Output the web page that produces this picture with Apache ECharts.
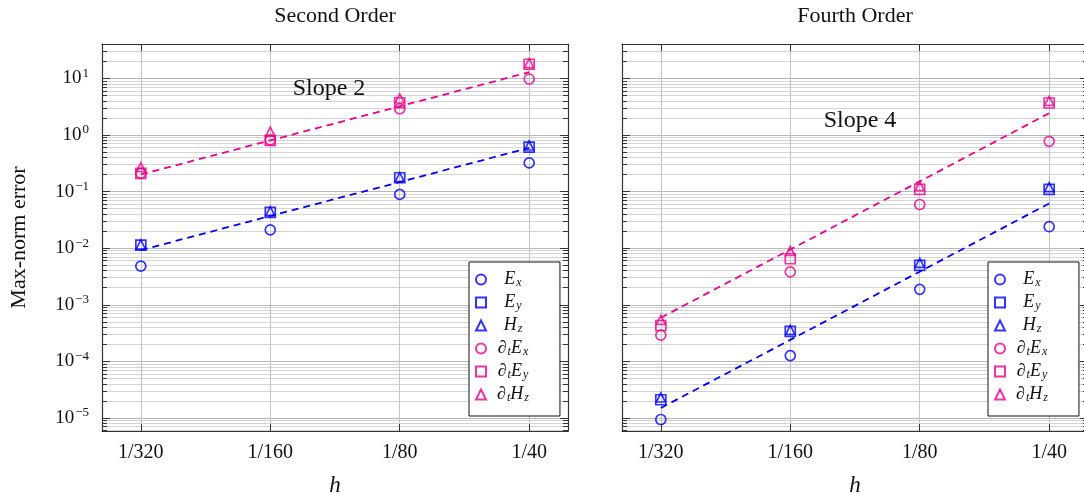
<!DOCTYPE html>
<html lang="en">
<head>
    <meta charset="UTF-8">
    <title>Max-norm error convergence</title>
    <script src="https://cdn.jsdelivr.net/npm/echarts@6/dist/echarts.min.js"></script>
    <style>
        html, body { margin: 0; padding: 0; background: #fff; }
        #main { width: 1084px; height: 494px; }
    </style>
</head>
<body>
    <div id="main"></div>
    <script type="text/javascript">
        // grid spacing h and its tick labels
        var hValues = [1 / 320, 1 / 160, 1 / 80, 1 / 40];
        var hLabels = ['1/320', '1/160', '1/80', '1/40'];
        // decade exponents used for the y tick labels
        var yExps = [-5, -4, -3, -2, -1, 0, 1];

        // second order scheme
        var so_Ex = [0.0048, 0.021, 0.089, 0.32];
        var so_Ey = [0.0113, 0.043, 0.175, 0.61];
        var so_Hz = [0.0116, 0.045, 0.18, 0.65];
        var so_dEx = [0.21, 0.81, 2.9, 9.7];
        var so_dEy = [0.21, 0.80, 3.7, 17.7];
        var so_dHz = [0.27, 1.14, 4.4, 18.5];
        var so_fitE = [0.0092, 0.037, 0.147, 0.59];
        var so_fitD = [0.2, 0.8, 3.2, 12.8];

        // fourth order scheme
        var fo_Ex = [9.4e-6, 1.26e-4, 1.87e-3, 0.0239];
        var fo_Ey = [2.1e-5, 3.4e-4, 4.97e-3, 0.109];
        var fo_Hz = [2.3e-5, 3.6e-4, 5.5e-3, 0.12];
        var fo_dEx = [2.9e-4, 3.8e-3, 0.059, 0.77];
        var fo_dEy = [4.3e-4, 6.5e-3, 0.109, 3.66];
        var fo_dHz = [5.4e-4, 8.9e-3, 0.125, 4.0];
        var fo_fitE = [1.5e-5, 2.4e-4, 3.84e-3, 0.0614];
        var fo_fitD = [5.9e-4, 9.44e-3, 0.151, 2.42];

        var BLUE = '#0000ff';
        var MAG = '#ec008c';
        var FONT = 'Liberation Serif';
        var names = ['Ex', 'Ey', 'Hz', 'dtEx', 'dtEy', 'dtHz'];
        var legendText = {
            Ex: '{i|E}{s|x}',
            Ey: '{i|E}{s|y}',
            Hz: '{i|H}{s|z}',
            dtEx: '{d|\u2202}{s|t}{i|E}{s|x}',
            dtEy: '{d|\u2202}{s|t}{i|E}{s|y}',
            dtHz: '{d|\u2202}{s|t}{i|H}{s|z}'
        };

        var yMajor = yExps.map(function (e) { return Math.pow(10, e); });
        var yMinor = [];
        for (var k = -6; k <= 1; k++) {
            for (var m = 2; m <= 9; m++) yMinor.push(m * Math.pow(10, k));
        }
        var yMin = Math.pow(10, -5.23);
        var yMax = Math.pow(10, 1.606);
        var xMin = hValues[0] * Math.pow(2, -0.3);
        var xMax = hValues[3] * Math.pow(2, 0.3);
        yMinor = yMinor.filter(function (v) { return v > yMin && v < yMax; });

        var frame = { show: true, lineStyle: { color: '#333', width: 1.2 } };
        var tickStyle = { color: '#333', width: 1 };

        function hLabel(v) {
            var best = 0;
            for (var i = 1; i < hValues.length; i++) {
                if (Math.abs(Math.log(hValues[i] / v)) < Math.abs(Math.log(hValues[best] / v))) best = i;
            }
            return hLabels[best];
        }
        function powLabel(v) {
            var e = Math.round(Math.log10(v));
            return '10{sup|' + (e < 0 ? '\u2212' + (-e) : e) + '}';
        }

        function xAxes(gi, title) {
            return [{
                type: 'log', logBase: 2, gridIndex: gi, min: xMin, max: xMax, position: 'bottom',
                axisLine: frame,
                axisTick: { inside: true, length: 7, customValues: hValues, lineStyle: tickStyle },
                axisLabel: { customValues: hValues, formatter: hLabel, margin: 12,
                    fontFamily: FONT, fontSize: 20, color: '#111' },
                splitLine: { show: true, lineStyle: { color: '#c4c4c4', width: 1 } },
                name: 'h', nameLocation: 'middle', nameGap: 43,
                nameTextStyle: { fontFamily: FONT, fontStyle: 'italic', fontSize: 23, color: '#111' }
            }, {
                type: 'log', logBase: 2, gridIndex: gi, min: xMin, max: xMax, position: 'top',
                axisLine: frame,
                axisTick: { inside: true, length: 7, customValues: hValues, lineStyle: tickStyle },
                axisLabel: { show: false },
                splitLine: { show: false },
                name: title, nameLocation: 'middle', nameGap: 17,
                nameTextStyle: { fontFamily: FONT, fontSize: 22, color: '#111' }
            }];
        }

        function yAxes(gi) {
            var base = { type: 'log', gridIndex: gi, min: yMin, max: yMax };
            return [
                Object.assign({}, base, {
                    position: 'left', axisLine: frame,
                    axisTick: { inside: true, length: 8, customValues: yMajor, lineStyle: tickStyle },
                    axisLabel: {
                        show: gi === 0, customValues: yMajor, formatter: powLabel, margin: 13,
                        fontFamily: FONT, fontSize: 19, color: '#111',
                        rich: { sup: { fontFamily: FONT, fontSize: 13, color: '#111', padding: [0, 0, 10, 1] } }
                    },
                    splitLine: { show: true, lineStyle: { color: '#b8b8b8', width: 1 } },
                    name: gi === 0 ? 'Max-norm error' : '', nameLocation: 'middle', nameGap: 72,
                    nameTextStyle: { fontFamily: FONT, fontSize: 22, color: '#111' }
                }),
                Object.assign({}, base, {
                    position: 'left', axisLine: { show: false },
                    axisTick: { inside: true, length: 5, customValues: yMinor, lineStyle: tickStyle },
                    axisLabel: { show: false },
                    splitLine: { show: true, lineStyle: { color: '#d4d4d4', width: 1 } }
                }),
                Object.assign({}, base, {
                    position: 'right', axisLine: frame,
                    axisTick: { inside: true, length: 8, customValues: yMajor, lineStyle: tickStyle },
                    axisLabel: { show: false }, splitLine: { show: false }
                }),
                Object.assign({}, base, {
                    position: 'right', axisLine: { show: false },
                    axisTick: { inside: true, length: 5, customValues: yMinor, lineStyle: tickStyle },
                    axisLabel: { show: false }, splitLine: { show: false }
                })
            ];
        }

        function pts(vals) {
            return vals.map(function (v, i) { return [hValues[i], v]; });
        }
        var symbols = ['circle', 'rect', 'triangle', 'circle', 'rect', 'triangle'];
        var sizes = [10, 10, 9, 10, 10, 9];

        function seriesFor(gi, sets, fits) {
            var out = [];
            fits.forEach(function (f, j) {
                out.push({
                    name: 'fit' + gi + j, type: 'line', xAxisIndex: gi * 2, yAxisIndex: gi * 4,
                    data: pts(f), showSymbol: false, symbol: 'none', silent: true, z: 1,
                    lineStyle: { color: j === 0 ? BLUE : MAG, width: 1.8, type: [7, 5] }
                });
            });
            sets.forEach(function (s, j) {
                var c = j < 3 ? BLUE : MAG;
                out.push({
                    name: names[j], type: 'scatter', xAxisIndex: gi * 2, yAxisIndex: gi * 4,
                    data: pts(s), symbol: symbols[j], symbolSize: sizes[j], z: 3,
                    itemStyle: { color: 'rgba(255,255,255,0)', borderColor: c, borderWidth: 1.7 }
                });
            });
            return out;
        }

        function legendAt(left) {
            var tok = { fontFamily: FONT, fontStyle: 'italic', fontSize: 18, lineHeight: 19, color: '#111', align: 'center' };
            return {
                data: names, orient: 'vertical', left: left, top: 262,
                itemWidth: 10, itemHeight: 10, itemGap: 4,
                padding: [8, 31, 12, 6],
                borderColor: '#111', borderWidth: 1, backgroundColor: '#fff',
                selectedMode: false,
                formatter: function (n) { return legendText[n]; },
                textStyle: {
                    fontFamily: FONT, fontSize: 17, color: '#111', width: 44, align: 'center',
                    rich: {
                        i: tok,
                        d: tok,
                        s: { fontFamily: FONT, fontStyle: 'italic', fontSize: 12, lineHeight: 12, color: '#111',
                             align: 'center', padding: [7, 0, 0, 1] }
                    }
                }
            };
        }

        var myChart = echarts.init(document.getElementById('main'), null, { renderer: 'canvas' });
        var option = {
            animation: false,
            backgroundColor: '#fff',
            grid: [
                { left: 102, top: 44, width: 466, height: 387, outerBoundsMode: 'none', containLabel: false },
                { left: 622, top: 44, width: 466, height: 387, outerBoundsMode: 'none', containLabel: false }
            ],
            xAxis: xAxes(0, 'Second Order').concat(xAxes(1, 'Fourth Order')),
            yAxis: yAxes(0).concat(yAxes(1)),
            legend: [legendAt(469), legendAt(988)],
            graphic: [
                { type: 'text', x: 329, y: 89, z: 10,
                  style: { text: 'Slope 2', fontFamily: FONT, fontSize: 24, fill: '#111', align: 'center', verticalAlign: 'middle' } },
                { type: 'text', x: 860, y: 121, z: 10,
                  style: { text: 'Slope 4', fontFamily: FONT, fontSize: 24, fill: '#111', align: 'center', verticalAlign: 'middle' } }
            ],
            series: seriesFor(0, [so_Ex, so_Ey, so_Hz, so_dEx, so_dEy, so_dHz], [so_fitE, so_fitD])
                .concat(seriesFor(1, [fo_Ex, fo_Ey, fo_Hz, fo_dEx, fo_dEy, fo_dHz], [fo_fitE, fo_fitD]))
        };
        myChart.setOption(option);
    </script>
</body>
</html>
